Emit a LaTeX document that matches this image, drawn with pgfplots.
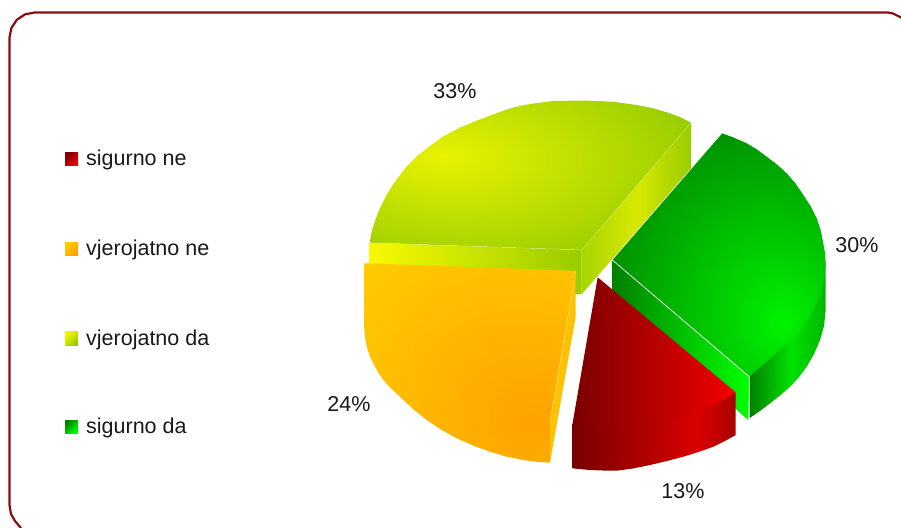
\documentclass[border=0pt]{standalone}
\usepackage{fontspec}
\setmainfont{Liberation Sans}
\usepackage{pgfplots}
\pgfplotsset{compat=1.18}

% bbox of the path maps to the 25bp..75bp part of a shading
\pgfdeclareradialshading{limetop}{\pgfpoint{-14bp}{6.5bp}}{rgb(0bp)=(0.91,0.95,0);rgb(37bp)=(0.59,0.80,0);rgb(90bp)=(0.59,0.80,0)}
\pgfdeclareradialshading{greentop}{\pgfpoint{15.5bp}{-14.5bp}}{rgb(0bp)=(0,0.95,0);rgb(42bp)=(0,0.5,0);rgb(90bp)=(0,0.5,0)}
\pgfdeclareradialshading{orangetop}{\pgfpoint{15.3bp}{-15.5bp}}{rgb(0bp)=(1,0.63,0);rgb(45bp)=(1,0.80,0);rgb(90bp)=(1,0.80,0)}
\pgfdeclarehorizontalshading{limeside}{100bp}{rgb(0bp)=(0.65,0.84,0);rgb(25bp)=(0.65,0.84,0);rgb(50bp)=(0.85,0.91,0);rgb(75bp)=(0.60,0.80,0);rgb(100bp)=(0.60,0.80,0)}
\pgfdeclarehorizontalshading{greenrim}{100bp}{rgb(0bp)=(0,0.5,0);rgb(25bp)=(0,0.5,0);rgb(52bp)=(0,0.88,0);rgb(75bp)=(0,0.72,0);rgb(100bp)=(0,0.72,0)}
\pgfdeclarehorizontalshading{redrim}{100bp}{rgb(0bp)=(0.47,0,0);rgb(25bp)=(0.47,0,0);rgb(49bp)=(0.70,0,0);rgb(63bp)=(0.86,0,0);rgb(75bp)=(0.66,0,0);rgb(100bp)=(0.66,0,0)}

\begin{document}
\begin{tikzpicture}
\useasboundingbox (0,0) rectangle (901pt,527pt);
\begin{axis}[
  at={(0,0)}, anchor=south west,
  width=901pt, height=527pt, scale only axis,
  xmin=0, xmax=901, ymin=0, ymax=527, y dir=reverse,
  hide axis,
  every node near coord/.append style={font=\fontsize{21.5}{25}\selectfont, text=black!90, inner sep=0pt},
]
% frame
\addplot[draw={rgb,255:red,139;green,12;blue,12}, line width=2.2pt] coordinates {
  (21,528) (15,521) (11,514) (9.5,505) (9.5,37.5) (11.4,28) (16.8,19.8) (25,14.4) (34.5,12.5)
  (888,12.5) (893,13.5) (906,20)};

% 33% slice
\addplot[draw=none, left color={rgb,1:red,0.97;green,0.98;blue,0}, right color={rgb,1:red,0.60;green,0.80;blue,0}] coordinates {
  (369.7,242.7) (581.7,250) (581.7,294.3) (575,294.3) (369.7,266)} --cycle;
\addplot[draw=none, shading=limeside] coordinates {
  (581.7,250) (691,122.7) (691,168) (581.7,294.3)} --cycle;
\addplot[draw=none, shading=limetop] coordinates {
  (581.7,250) (691,122.7) (680,117) (666.7,112.3) (652,108) (636.7,105) (613.3,101.7) (583,100.5)
  (553,101) (530,104) (513,107.5) (497,113) (477,120.5) (460,127.5) (443,136.5) (430,146) (417,156)
  (407,166) (400,175) (392,186) (386,196) (380,208) (376,218) (372,230) (369.7,242.7)} --cycle;
\addplot[draw=white, opacity=0.35, line width=0.5pt] coordinates {(369.7,242.7) (581.7,250) (691,122.7)};

% 30% slice
\addplot[draw=none, left color={rgb,1:red,0;green,0.5;blue,0}, right color={rgb,1:red,0;green,1;blue,0}] coordinates {
  (612.3,260) (749.3,376.7) (748.3,420) (612.3,300)} --cycle;
\addplot[draw=none, shading=greenrim] coordinates {
  (749.3,370) (825.7,262) (825.7,310)
  (824,326) (820,340) (814,354) (806.7,366.7) (799,377) (790,386.7) (780,395.5) (770,403.3) (760,411)
  (749.3,418.3)} --cycle;
\addplot[draw=none, shading=greentop] coordinates {
  (612.3,260) (722,133.3) (733.5,137.5) (746.7,143.3) (757,149.5) (766.7,156.7) (777,164.5) (786.7,173.3)
  (795.5,183.5) (803.3,195) (810.5,206) (816.7,218.3) (820.8,230.5) (823.3,243.3) (825,253) (825.7,263.3)
  (825,273) (823.3,283.3) (820.8,294) (816.7,303.3) (810.5,315.5) (803.3,326.7) (795.5,335.5) (786.7,343.3)
  (777,352.5) (766.7,361.7) (758,369) (749.3,376.7)} --cycle;
\addplot[draw=white, line width=0.7pt] coordinates {(612.3,260) (749.3,376.7) (749.3,420)};
\addplot[draw=white, opacity=0.5, line width=0.4pt] coordinates {(612.3,260) (722,133.3)};

% 24% slice, top and rim blend into one shape
\addplot[draw=none, shading=orangetop] coordinates {
  (364,263.3) (575.7,270.7) (550,421.7) (550,462.7) (537,461.8) (523.3,460) (506,456.5) (490,451.7)
  (473,445.5) (456.7,438.3) (441,429.5) (426.7,420) (413,409) (400,396.7) (391,388.5) (383.3,380)
  (378,372) (373.3,363.3) (369.5,355.5) (366.7,346.7) (365,337) (364,326.7)} --cycle;
\addplot[draw=none, fill={rgb,1:red,1;green,0.76;blue,0}] coordinates {
  (575.7,270.7) (575.7,316.7) (550,462.7) (550,421.7)} --cycle;
\addplot[draw=white, opacity=0.5, line width=0.4pt] coordinates {(575.7,270.7) (550,421.7)};

% 13% slice, rim runs on under the top so no seam shows
\addplot[draw=none, shading=redrim] coordinates {
  (572.3,425) (576,418) (730,392) (735.7,392.3) (735.7,435) (725,441) (713.3,446.7) (698.5,452) (683.3,456.7) (667,461)
  (650,465) (633,468.5) (616.7,470.7) (603,470.5) (590,470) (572.3,468.3)} --cycle;
\addplot[draw=none, left color={rgb,1:red,0.48;green,0;blue,0}, right color={rgb,1:red,0.95;green,0;blue,0}] coordinates {
  (597.7,277.3) (735.7,392.3) (725,399) (713.3,405) (698.5,411.3) (683.3,416.7) (667,422) (650,426) (633,428.5)
  (616.7,430) (603,429.8) (590,428) (572.3,425)} --cycle;

% legend swatches
\addplot[draw=none, left color={rgb,1:red,0.48;green,0;blue,0}, right color={rgb,1:red,0.95;green,0;blue,0}, shading angle=45] coordinates {(65,152) (78,152) (78,165.7) (65,165.7)} --cycle;
\addplot[draw=none, left color={rgb,1:red,1;green,0.80;blue,0}, right color={rgb,1:red,1;green,0.63;blue,0}, shading angle=45] coordinates {(65,242) (78,242) (78,255.7) (65,255.7)} --cycle;
\addplot[draw=none, left color={rgb,1:red,0.95;green,0.97;blue,0}, right color={rgb,1:red,0.60;green,0.80;blue,0}, shading angle=45] coordinates {(65,331.7) (78,331.7) (78,345) (65,345)} --cycle;
\addplot[draw=none, left color={rgb,1:red,0;green,0.5;blue,0}, right color={rgb,1:red,0;green,1;blue,0}, shading angle=45] coordinates {(65,420) (78,420) (78,433.3) (65,433.3)} --cycle;

% legend text
\addplot[draw=none, point meta=explicit symbolic, nodes near coords, nodes near coords align={anchor=west}] coordinates {
  (86,160)[sigurno ne] (86,250)[vjerojatno ne] (86,340)[vjerojatno da] (86,428)[sigurno da]};
% percentages
\addplot[draw=none, point meta=explicit symbolic, nodes near coords, nodes near coords align={anchor=center}] coordinates {
  (455,91)[33\%] (857,245)[30\%] (349,404)[24\%] (683,491)[13\%]};
\end{axis}
\end{tikzpicture}
\end{document}
